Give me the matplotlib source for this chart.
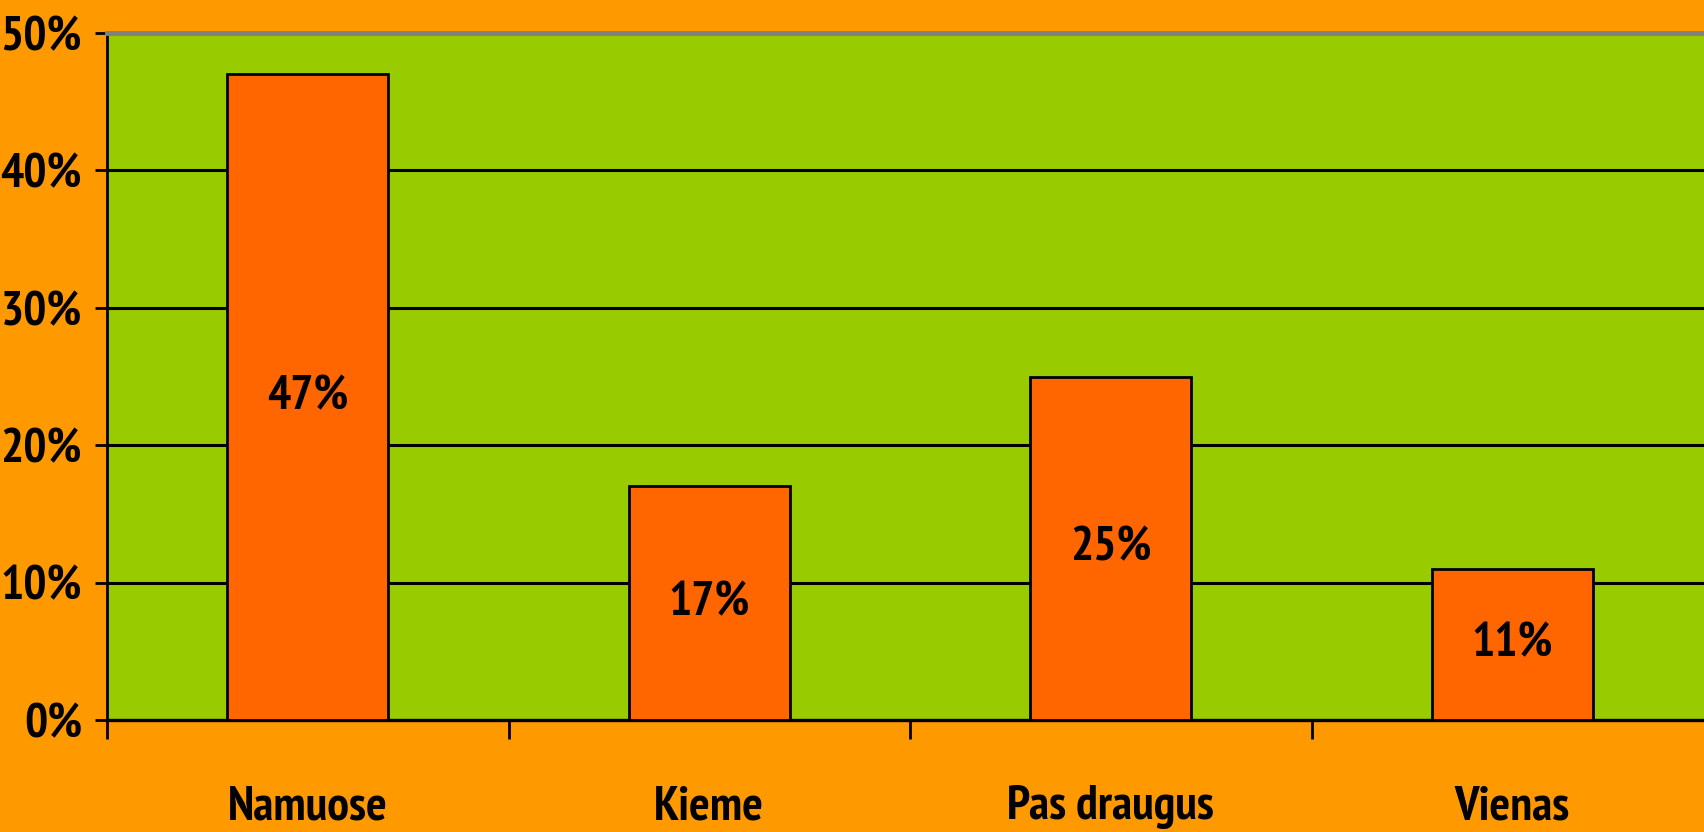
import matplotlib
matplotlib.use("Agg")
import matplotlib.pyplot as plt
from matplotlib import font_manager as fm

categories = ["Namuose", "Kieme", "Pas draugus", "Vienas"]
values = [47, 17, 25, 11]
yticks = [0, 10, 20, 30, 40, 50]
ytick_labels = ["0%", "10%", "20%", "30%", "40%", "50%"]

names = {f.name for f in fm.fontManager.ttflist}
family = "Liberation Sans"
for cand in ["Liberation Sans Narrow", "PT Sans Narrow", "Archivo Narrow", "Roboto Condensed"]:
    if cand in names:
        family = cand
        break
plt.rcParams["font.family"] = [family, "DejaVu Sans"]
plt.rcParams["font.weight"] = "bold"

BG = "#FF9900"
PLOT = "#99CC00"
BAR = "#FF6600"
FS = 35

fig = plt.figure(figsize=(17.04, 8.32), dpi=100, facecolor=BG)
ax = fig.add_axes([107/1704, 112/832, 1606/1704, 687/832])
ax.set_facecolor(PLOT)

x = list(range(len(categories)))
ax.bar(x, values, width=0.40, color=BAR, edgecolor="black", linewidth=2, zorder=3)
for xi, v in zip(x, values):
    ax.text(xi, v / 2, f"{v}%", ha="center", va="center", fontsize=FS,
            fontweight="bold", zorder=4)

ax.set_xlim(-0.5, 3.5)
ax.set_ylim(0, 50)
ax.set_yticks(yticks)
ax.set_yticklabels(ytick_labels, fontsize=FS, fontweight="bold")
for y in yticks[1:-1]:
    ax.axhline(y, color="black", linewidth=2.2, zorder=1)

ax.set_xticks(x)
ax.set_xticklabels(categories, fontsize=FS, fontweight="bold")
ax.set_xticks([-0.5, 0.5, 1.5, 2.5, 3.5], minor=True)
ax.tick_params(axis="x", which="major", length=0, pad=47)
ax.tick_params(axis="x", which="minor", length=14, width=2, color="black")
ax.tick_params(axis="y", length=9, width=2, color="black", pad=9)

ax.spines["right"].set_visible(False)
ax.spines["top"].set_color("#808080")
ax.spines["top"].set_linewidth(3.5)
ax.spines["left"].set_linewidth(2)
ax.spines["bottom"].set_linewidth(2.4)

fig.savefig("out.png", dpi=100, facecolor=BG)
